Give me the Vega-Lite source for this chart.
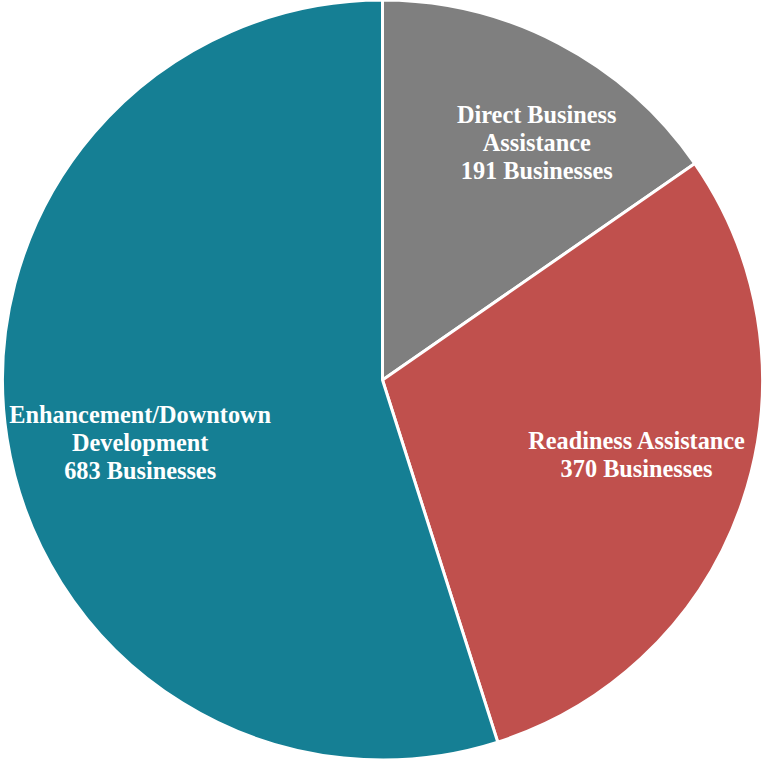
{
  "$schema": "https://vega.github.io/schema/vega-lite/v6.json",
  "autosize": {"type": "fit", "contains": "padding"},
  "width": 765,
  "height": 760,
  "padding": 0,
  "background": "white",
  "view": {"stroke": null},
  "data": {
    "values": [
      {"category": "Direct Business Assistance", "businesses": 191, "rank": 1, "label": "Direct Business\nAssistance\n191 Businesses"},
      {"category": "Readiness Assistance", "businesses": 370, "rank": 2, "label": "Readiness Assistance\n370 Businesses"},
      {"category": "Enhancement/Downtown Development", "businesses": 683, "rank": 3, "label": "Enhancement/Downtown\nDevelopment\n683 Businesses"}
    ]
  },
  "encoding": {
    "theta": {"field": "businesses", "type": "quantitative", "stack": true},
    "order": {"field": "rank", "type": "quantitative"}
  },
  "layer": [
    {
      "mark": {"type": "arc", "outerRadius": 380, "stroke": "white", "strokeWidth": 3},
      "encoding": {
        "color": {
          "field": "category",
          "type": "nominal",
          "scale": {
            "domain": ["Direct Business Assistance", "Readiness Assistance", "Enhancement/Downtown Development"],
            "range": ["#7f7f7f", "#c0504d", "#157f94"]
          },
          "legend": null
        }
      }
    },
    {
      "mark": {"type": "text", "radius": 283, "thetaOffset": 0.094, "dy": -27, "font": "Liberation Serif", "fontWeight": "bold", "fontSize": 24.3, "lineHeight": 28, "color": "white", "align": "center", "baseline": "middle", "lineBreak": "\n"},
      "encoding": {"text": {"condition": {"test": "datum.rank == 1", "field": "label"}, "value": ""}}
    },
    {
      "mark": {"type": "text", "radius": 265, "thetaOffset": -0.04, "dy": -13, "font": "Liberation Serif", "fontWeight": "bold", "fontSize": 24.3, "lineHeight": 28, "color": "white", "align": "center", "baseline": "middle", "lineBreak": "\n"},
      "encoding": {"text": {"condition": {"test": "datum.rank == 2", "field": "label"}, "value": ""}}
    },
    {
      "mark": {"type": "text", "radius": 250, "thetaOffset": -0.094, "dy": -25, "font": "Liberation Serif", "fontWeight": "bold", "fontSize": 24.3, "lineHeight": 28, "color": "white", "align": "center", "baseline": "middle", "lineBreak": "\n"},
      "encoding": {"text": {"condition": {"test": "datum.rank == 3", "field": "label"}, "value": ""}}
    }
  ]
}
